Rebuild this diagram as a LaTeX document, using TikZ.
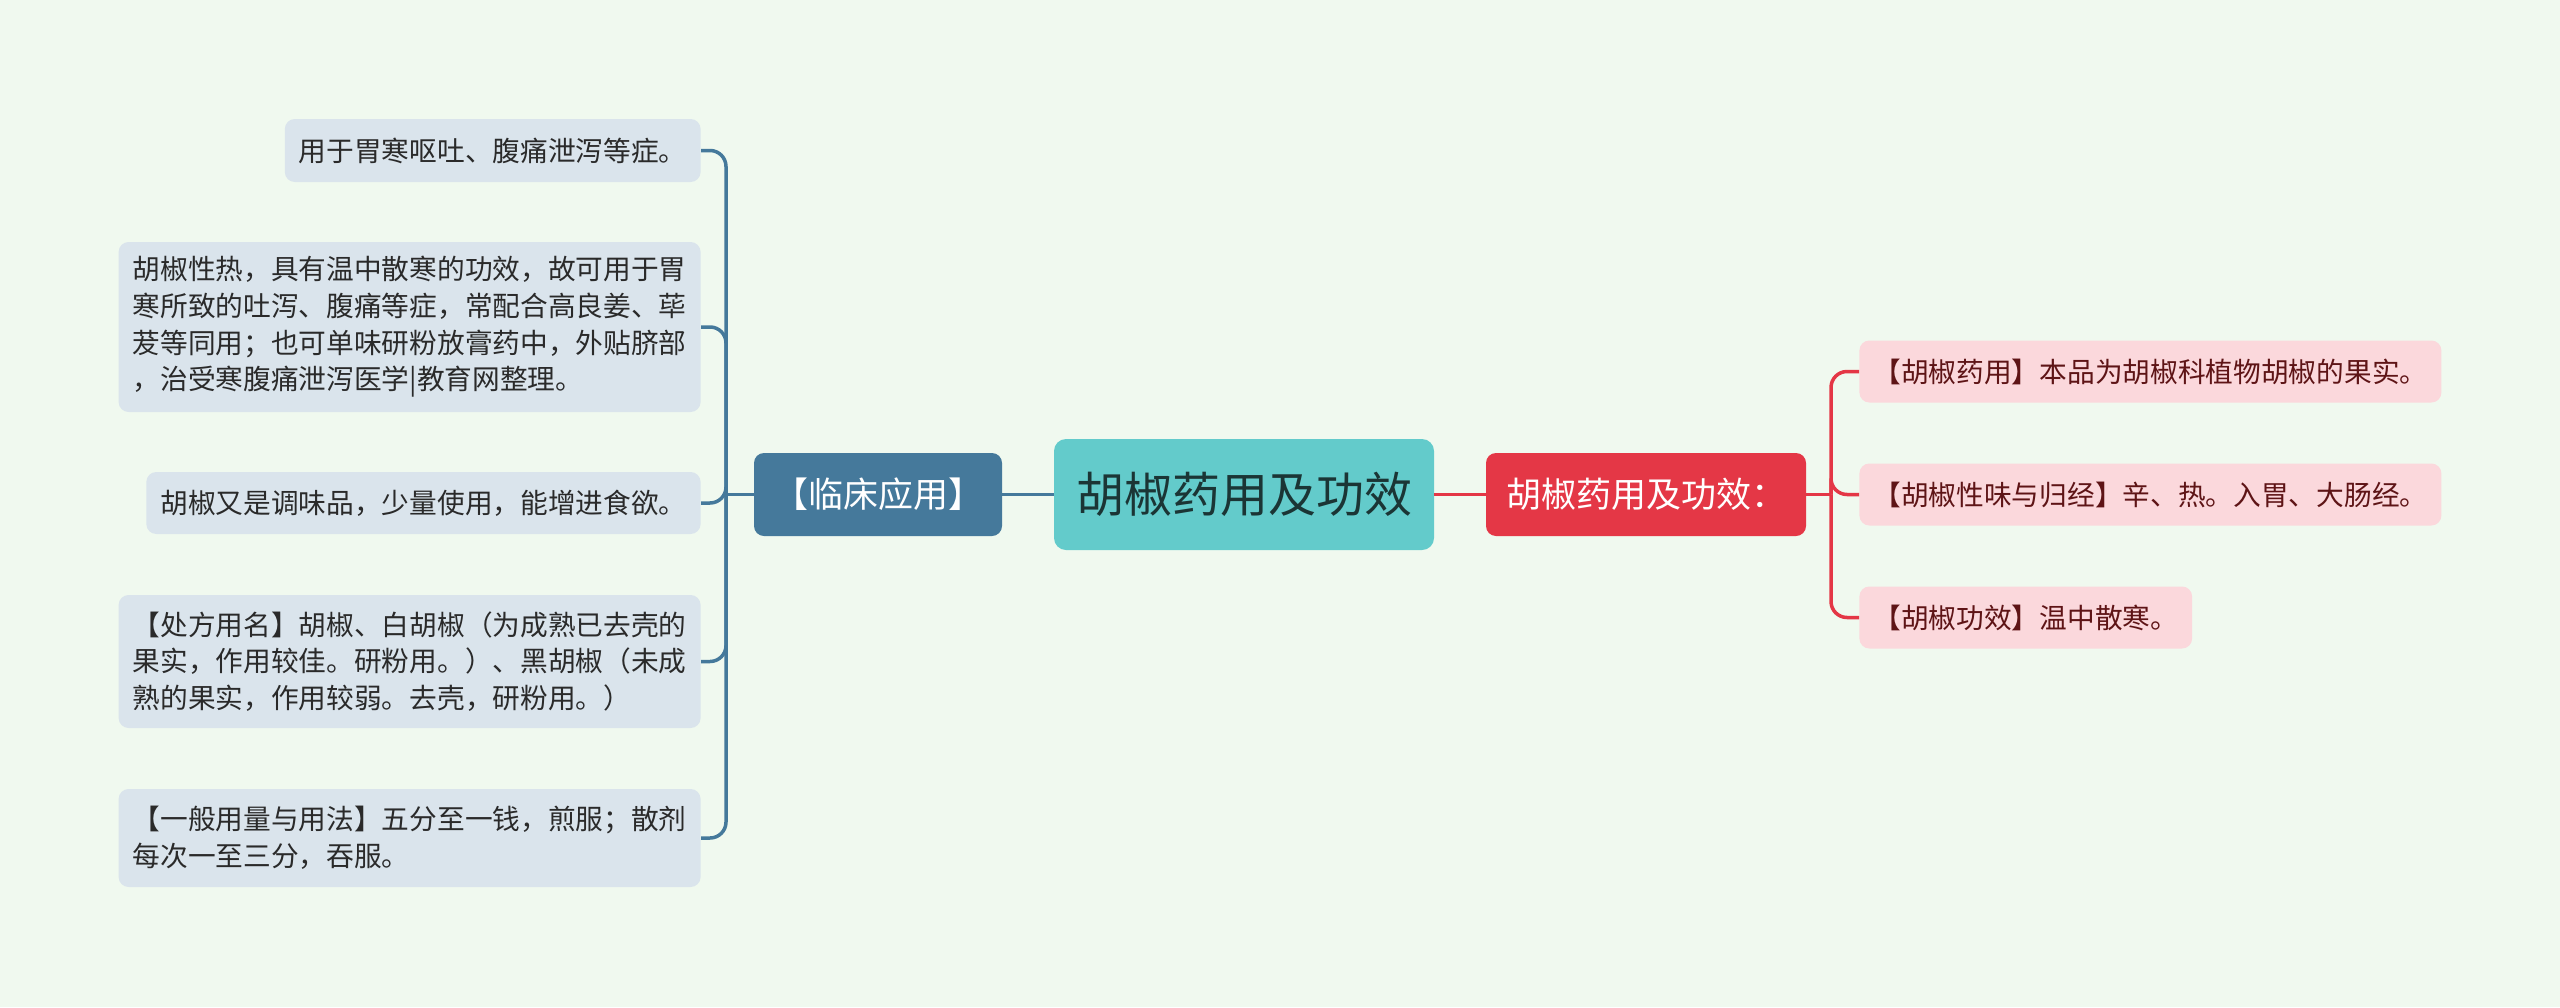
\documentclass[tikz,border=0pt]{standalone}
\usepackage{fontspec}
\newfontfamily\cjk{Noto Sans CJK SC}
\definecolor{bg}{HTML}{F0F9EF}
\definecolor{teal}{HTML}{63CBCB}
\definecolor{tealtext}{HTML}{1B3535}
\definecolor{steel}{HTML}{45799B}
\definecolor{lfill}{HTML}{DAE4EC}
\definecolor{ltext}{HTML}{2A2A2A}
\definecolor{redc}{HTML}{E43746}
\definecolor{pinkc}{HTML}{FBD8DC}
\definecolor{rtext}{HTML}{5E1416}
\begin{document}
\begin{tikzpicture}[x=0.5pt,y=-0.5pt,
  box/.style={rounded corners=5pt, inner ysep=0pt, inner xsep=7pt, align=left,
    font=\cjk\fontsize{13.85}{18.35}\selectfont},
  lchild/.style={box, fill=lfill, text=ltext, anchor=east},
  rchild/.style={box, fill=pinkc, text=rtext, anchor=west},
  bline/.style={draw=steel, line width=1.75pt, rounded corners=8pt},
  rline/.style={draw=redc, line width=1.75pt, rounded corners=8pt}]
\useasboundingbox[fill=bg] (0,0) rectangle (2560,1007);

% central
\node[fill=teal, text=tealtext, rounded corners=6pt, minimum width=190pt, minimum height=55.5pt,
  inner sep=0pt, font=\cjk\fontsize{24}{28}\selectfont] (c) at (1244,494.5) {胡椒药用及功效};
% left main
\node[fill=steel, text=white, rounded corners=5pt, minimum width=124pt, minimum height=41.5pt,
  inner sep=0pt, font=\cjk\fontsize{17.5}{21}\selectfont] (cl) at (878,494.5) {【临床应用】};
% right main
\node[fill=redc, text=white, rounded corners=5pt, minimum width=160pt, minimum height=41.5pt,
  inner sep=0pt, font=\cjk\fontsize{17.5}{21}\selectfont] (cr) at (1646,494.5) {胡椒药用及功效：};

% left children
\node[lchild, minimum height=31.5pt] (L1) at (701,150.5) {用于胃寒呕吐、腹痛泄泻等症。};
\node[lchild, minimum height=85pt] (L2) at (701,327) {胡椒性热，具有温中散寒的功效，故可用于胃\\寒所致的吐泻、腹痛等症，常配合高良姜、荜\\茇等同用；也可单味研粉放膏药中，外贴脐部\\，治受寒腹痛泄泻医学|教育网整理。};
\node[lchild, minimum height=31pt] (L3) at (701,503) {胡椒又是调味品，少量使用，能增进食欲。};
\node[lchild, minimum height=66.5pt] (L4) at (701,661.5) {【处方用名】胡椒、白胡椒（为成熟已去壳的\\果实，作用较佳。研粉用。）、黑胡椒（未成\\熟的果实，作用较弱。去壳，研粉用。）};
\node[lchild, minimum height=49pt] (L5) at (701,838) {【一般用量与用法】五分至一钱，煎服；散剂\\每次一至三分，吞服。};

% right children
\node[rchild, minimum height=31pt] (R1) at (1859,371.5) {【胡椒药用】本品为胡椒科植物胡椒的果实。};
\node[rchild, minimum height=31pt] (R2) at (1859,494.5) {【胡椒性味与归经】辛、热。入胃、大肠经。};
\node[rchild, minimum height=31pt] (R3) at (1859,617.5) {【胡椒功效】温中散寒。};

% connectors
\coordinate (lt) at (726,494.5);
\coordinate (rt) at (1831,494.5);
\draw[bline] (c.west) -- (cl.east);
\draw[rline] (c.east) -- (cr.west);
\draw[bline] (cl.west) -- (lt);
\draw[rline] (cr.east) -- (rt);
\foreach \n in {L1,L2,L3,L4,L5} { \draw[bline] (lt) |- (\n.east); }
\foreach \n in {R1,R2,R3} { \draw[rline] (rt) |- (\n.west); }
\end{tikzpicture}
\end{document}
